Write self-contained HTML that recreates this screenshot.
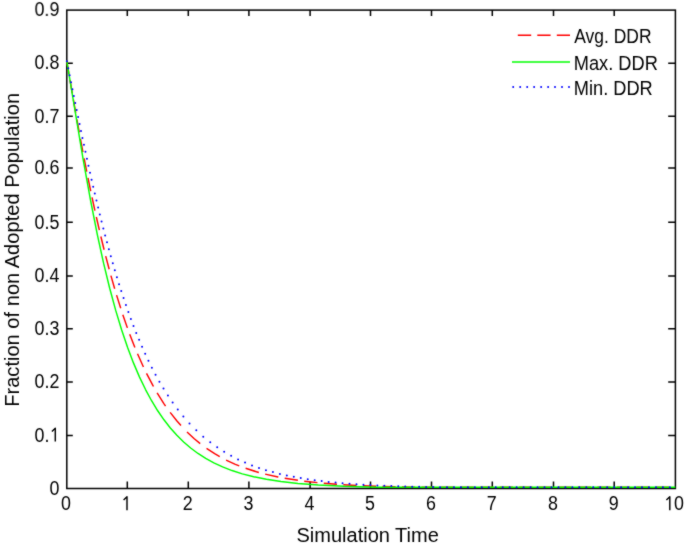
<!DOCTYPE html>
<html><head><meta charset="utf-8"><style>
html,body{margin:0;padding:0;background:#fff;}
svg{display:block;will-change:transform;}
text{font-family:"Liberation Sans",sans-serif;fill:#000;}
</style></head><body>
<svg width="685" height="546" viewBox="0 0 685 546">
<defs><filter id="soft" x="0" y="0" width="685" height="546" filterUnits="userSpaceOnUse" color-interpolation-filters="sRGB"><feConvolveMatrix order="3" kernelMatrix="1 2 1 2 20 2 1 2 1" divisor="32" edgeMode="duplicate"/></filter></defs>
<g filter="url(#soft)">
<rect width="685" height="546" fill="#fff"/>
<g fill="none" stroke="#000" stroke-width="1.5">
<rect x="66.8" y="10.1" width="608.6" height="478.4"/>
<path d="M127.3,488.5V481.5M127.3,10.1V16.1M188.3,488.5V481.5M188.3,10.1V16.1M248.9,488.5V481.5M248.9,10.1V16.1M310.1,488.5V481.5M310.1,10.1V16.1M370.5,488.5V481.5M370.5,10.1V16.1M431.5,488.5V481.5M431.5,10.1V16.1M492.3,488.5V481.5M492.3,10.1V16.1M553.5,488.5V481.5M553.5,10.1V16.1M614.2,488.5V481.5M614.2,10.1V16.1M66.8,435.5H72.8M675.4,435.5H668.2M66.8,381.9H72.8M675.4,381.9H668.2M66.8,328.8H72.8M675.4,328.8H668.2M66.8,276.1H72.8M675.4,276.1H668.2M66.8,222.3H72.8M675.4,222.3H668.2M66.8,168.1H72.8M675.4,168.1H668.2M66.8,116.3H72.8M675.4,116.3H668.2M66.8,63.2H72.8M675.4,63.2H668.2"/>
</g>
<g fill="none" stroke-width="1.45" stroke-linejoin="round" stroke-linecap="butt">
<path d="M66.70,60.66 68.93,73.86M70.01,80.20 72.29,93.40M73.39,99.74 75.73,112.94M76.86,119.28 79.26,132.48M80.44,138.82 82.92,152.02M84.14,158.36 86.73,171.56M88.01,177.90 90.72,191.10M92.06,197.44 94.91,210.64M96.33,216.98 99.36,230.18M100.86,236.52 104.09,249.72M105.70,256.06 109.18,269.26M110.91,275.60 114.68,288.80M116.58,295.14 120.71,308.34M122.80,314.68 127.38,327.88M129.71,334.22 134.87,347.42M137.52,353.76 143.44,366.96M146.51,373.30 152.98,385.63 153.46,386.50M157.12,392.84 163.71,403.29 165.58,406.04M170.14,412.38 176.97,421.00 180.97,425.58M187.00,431.92 194.28,438.72 200.20,443.65M206.54,448.38 214.66,453.71 219.74,456.69M226.08,460.04 235.36,464.31 239.28,465.92M245.62,468.29 256.48,471.77 258.82,472.44M265.16,474.12 278.03,476.99 278.36,477.06M284.70,478.25 297.90,480.32M304.24,481.16 317.44,482.63M323.78,483.22 336.98,484.26M343.32,484.68 356.52,485.42M362.86,485.71 376.06,486.23M382.40,486.44 395.60,486.81M401.94,486.96 415.14,487.20M421.48,487.20 434.68,487.20M441.02,487.20 454.22,487.20M460.56,487.20 473.76,487.20M480.10,487.20 493.30,487.20M499.64,487.20 512.84,487.20M519.18,487.20 532.38,487.20M538.72,487.20 551.92,487.20M558.26,487.20 571.46,487.20M577.80,487.20 591.00,487.20M597.34,487.20 610.54,487.20M616.88,487.20 630.08,487.20M636.42,487.20 649.62,487.20M655.96,487.20 669.16,487.20" stroke="#f00"/>
<path d="M66.70,60.66 83.27,160.06 90.65,200.98 97.28,234.46 103.58,263.19 109.70,288.29 115.71,310.41 121.67,330.06 127.61,347.54 133.56,363.14 139.53,377.09 145.53,389.56 151.58,400.73 157.71,410.77 163.96,419.82 170.34,427.97 176.89,435.33 183.65,441.99 190.66,448.01 198.00,453.47 205.70,458.40 213.86,462.87 222.60,466.92 232.02,470.56 242.32,473.83 253.68,476.74 266.42,479.30 280.96,481.54 297.92,483.45 318.29,485.03 343.85,486.30 376.74,487.20 675.30,487.20" stroke="#0f0"/>
</g>
<g fill="#00f"><circle cx="66.83" cy="61.29" r="1.0"/><circle cx="68.23" cy="68.26" r="1.0"/><circle cx="69.63" cy="75.22" r="1.0"/><circle cx="71.03" cy="82.19" r="1.0"/><circle cx="72.43" cy="89.15" r="1.0"/><circle cx="73.84" cy="96.11" r="1.0"/><circle cx="75.25" cy="103.08" r="1.0"/><circle cx="76.68" cy="110.04" r="1.0"/><circle cx="78.11" cy="117.01" r="1.0"/><circle cx="79.55" cy="123.97" r="1.0"/><circle cx="81.00" cy="130.93" r="1.0"/><circle cx="82.46" cy="137.90" r="1.0"/><circle cx="83.94" cy="144.86" r="1.0"/><circle cx="85.43" cy="151.83" r="1.0"/><circle cx="86.94" cy="158.79" r="1.0"/><circle cx="88.47" cy="165.75" r="1.0"/><circle cx="90.02" cy="172.72" r="1.0"/><circle cx="91.59" cy="179.68" r="1.0"/><circle cx="93.19" cy="186.65" r="1.0"/><circle cx="94.80" cy="193.61" r="1.0"/><circle cx="96.45" cy="200.57" r="1.0"/><circle cx="98.12" cy="207.54" r="1.0"/><circle cx="99.82" cy="214.50" r="1.0"/><circle cx="101.56" cy="221.47" r="1.0"/><circle cx="103.33" cy="228.43" r="1.0"/><circle cx="105.14" cy="235.39" r="1.0"/><circle cx="106.98" cy="242.36" r="1.0"/><circle cx="108.87" cy="249.32" r="1.0"/><circle cx="110.81" cy="256.29" r="1.0"/><circle cx="112.79" cy="263.25" r="1.0"/><circle cx="114.82" cy="270.21" r="1.0"/><circle cx="116.91" cy="277.18" r="1.0"/><circle cx="119.06" cy="284.14" r="1.0"/><circle cx="121.28" cy="291.11" r="1.0"/><circle cx="123.56" cy="298.07" r="1.0"/><circle cx="125.92" cy="305.03" r="1.0"/><circle cx="128.36" cy="312.00" r="1.0"/><circle cx="130.89" cy="318.96" r="1.0"/><circle cx="133.52" cy="325.93" r="1.0"/><circle cx="136.25" cy="332.89" r="1.0"/><circle cx="139.10" cy="339.85" r="1.0"/><circle cx="142.07" cy="346.82" r="1.0"/><circle cx="145.19" cy="353.78" r="1.0"/><circle cx="148.46" cy="360.75" r="1.0"/><circle cx="151.90" cy="367.71" r="1.0"/><circle cx="155.54" cy="374.67" r="1.0"/><circle cx="159.41" cy="381.64" r="1.0"/><circle cx="163.52" cy="388.60" r="1.0"/><circle cx="167.92" cy="395.57" r="1.0"/><circle cx="172.65" cy="402.53" r="1.0"/><circle cx="177.77" cy="409.49" r="1.0"/><circle cx="183.36" cy="416.46" r="1.0"/><circle cx="189.51" cy="423.42" r="1.0"/><circle cx="196.30" cy="430.34" r="1.0"/><circle cx="203.27" cy="436.68" r="1.0"/><circle cx="210.23" cy="442.33" r="1.0"/><circle cx="217.20" cy="447.36" r="1.0"/><circle cx="224.16" cy="451.85" r="1.0"/><circle cx="231.12" cy="455.84" r="1.0"/><circle cx="238.09" cy="459.40" r="1.0"/><circle cx="245.05" cy="462.57" r="1.0"/><circle cx="252.02" cy="465.39" r="1.0"/><circle cx="258.98" cy="467.90" r="1.0"/><circle cx="265.94" cy="470.14" r="1.0"/><circle cx="272.91" cy="472.12" r="1.0"/><circle cx="279.87" cy="473.89" r="1.0"/><circle cx="286.84" cy="475.47" r="1.0"/><circle cx="293.80" cy="476.87" r="1.0"/><circle cx="300.76" cy="478.12" r="1.0"/><circle cx="307.73" cy="479.23" r="1.0"/><circle cx="314.69" cy="480.22" r="1.0"/><circle cx="321.66" cy="481.10" r="1.0"/><circle cx="328.62" cy="481.88" r="1.0"/><circle cx="335.58" cy="482.58" r="1.0"/><circle cx="342.55" cy="483.20" r="1.0"/><circle cx="349.51" cy="483.75" r="1.0"/><circle cx="356.48" cy="484.24" r="1.0"/><circle cx="363.44" cy="484.67" r="1.0"/><circle cx="370.40" cy="485.06" r="1.0"/><circle cx="377.37" cy="485.41" r="1.0"/><circle cx="384.33" cy="485.72" r="1.0"/><circle cx="391.30" cy="485.99" r="1.0"/><circle cx="398.26" cy="486.23" r="1.0"/><circle cx="405.22" cy="486.45" r="1.0"/><circle cx="412.19" cy="486.64" r="1.0"/><circle cx="419.15" cy="486.81" r="1.0"/><circle cx="426.12" cy="486.97" r="1.0"/><circle cx="433.08" cy="487.10" r="1.0"/><circle cx="440.04" cy="487.20" r="1.0"/><circle cx="447.01" cy="487.20" r="1.0"/><circle cx="453.97" cy="487.20" r="1.0"/><circle cx="460.94" cy="487.20" r="1.0"/><circle cx="467.90" cy="487.20" r="1.0"/><circle cx="474.86" cy="487.20" r="1.0"/><circle cx="481.83" cy="487.20" r="1.0"/><circle cx="488.79" cy="487.20" r="1.0"/><circle cx="495.76" cy="487.20" r="1.0"/><circle cx="502.72" cy="487.20" r="1.0"/><circle cx="509.68" cy="487.20" r="1.0"/><circle cx="516.65" cy="487.20" r="1.0"/><circle cx="523.61" cy="487.20" r="1.0"/><circle cx="530.58" cy="487.20" r="1.0"/><circle cx="537.54" cy="487.20" r="1.0"/><circle cx="544.50" cy="487.20" r="1.0"/><circle cx="551.47" cy="487.20" r="1.0"/><circle cx="558.43" cy="487.20" r="1.0"/><circle cx="565.40" cy="487.20" r="1.0"/><circle cx="572.36" cy="487.20" r="1.0"/><circle cx="579.32" cy="487.20" r="1.0"/><circle cx="586.29" cy="487.20" r="1.0"/><circle cx="593.25" cy="487.20" r="1.0"/><circle cx="600.22" cy="487.20" r="1.0"/><circle cx="607.18" cy="487.20" r="1.0"/><circle cx="614.14" cy="487.20" r="1.0"/><circle cx="621.11" cy="487.20" r="1.0"/><circle cx="628.07" cy="487.20" r="1.0"/><circle cx="635.04" cy="487.20" r="1.0"/><circle cx="642.00" cy="487.20" r="1.0"/><circle cx="648.96" cy="487.20" r="1.0"/><circle cx="655.93" cy="487.20" r="1.0"/><circle cx="662.89" cy="487.20" r="1.0"/><circle cx="669.86" cy="487.20" r="1.0"/></g>
<g font-size="20.3"><text x="66.0" y="510.4" text-anchor="middle" transform="translate(66.0,0) scale(0.88,1) translate(-66.0,0)">0</text><text x="187.8" y="510.4" text-anchor="middle" transform="translate(187.8,0) scale(0.88,1) translate(-187.8,0)">2</text><text x="248.4" y="510.4" text-anchor="middle" transform="translate(248.4,0) scale(0.88,1) translate(-248.4,0)">3</text><text x="309.6" y="510.4" text-anchor="middle" transform="translate(309.6,0) scale(0.88,1) translate(-309.6,0)">4</text><text x="370.0" y="510.4" text-anchor="middle" transform="translate(370.0,0) scale(0.88,1) translate(-370.0,0)">5</text><text x="431.0" y="510.4" text-anchor="middle" transform="translate(431.0,0) scale(0.88,1) translate(-431.0,0)">6</text><text x="491.8" y="510.4" text-anchor="middle" transform="translate(491.8,0) scale(0.88,1) translate(-491.8,0)">7</text><text x="553.0" y="510.4" text-anchor="middle" transform="translate(553.0,0) scale(0.88,1) translate(-553.0,0)">8</text><text x="613.7" y="510.4" text-anchor="middle" transform="translate(613.7,0) scale(0.88,1) translate(-613.7,0)">9</text><text x="678.9" y="510.4" text-anchor="middle" transform="translate(678.9,0) scale(0.88,1) translate(-678.9,0)">0</text><text x="59.5" y="494.8" text-anchor="end" transform="translate(59.5,0) scale(0.88,1) translate(-59.5,0)">0</text><text x="34.5" y="441.8" transform="translate(34.5,0) scale(0.88,1) translate(-34.5,0)">0.</text><text x="34.5" y="388.2" transform="translate(34.5,0) scale(0.88,1) translate(-34.5,0)">0.2</text><text x="34.5" y="335.1" transform="translate(34.5,0) scale(0.88,1) translate(-34.5,0)">0.3</text><text x="34.5" y="282.4" transform="translate(34.5,0) scale(0.88,1) translate(-34.5,0)">0.4</text><text x="34.5" y="228.6" transform="translate(34.5,0) scale(0.88,1) translate(-34.5,0)">0.5</text><text x="34.5" y="174.4" transform="translate(34.5,0) scale(0.88,1) translate(-34.5,0)">0.6</text><text x="34.5" y="122.6" transform="translate(34.5,0) scale(0.88,1) translate(-34.5,0)">0.7</text><text x="34.5" y="69.5" transform="translate(34.5,0) scale(0.88,1) translate(-34.5,0)">0.8</text><text x="34.5" y="16.4" transform="translate(34.5,0) scale(0.88,1) translate(-34.5,0)">0.9</text></g>
<path d="M123.60,500.10L127.00,496.80V510.20M666.40,500.10L669.80,496.80V510.20M51.90,431.50L55.30,428.20V441.60" fill="none" stroke="#000" stroke-width="1.45" stroke-linejoin="round"/>
<text x="296.5" y="542" font-size="20">Simulation Time</text>
<text transform="translate(18.8,406.8) rotate(-90)" font-size="20.1">Fraction of non Adopted Population</text>
<g fill="none" stroke-width="1.4">
<path d="M531.2,35.3H517.8M550.6,35.3H537.3M570.0,35.3H556.8" stroke="#f00"/>
<path d="M512,62H570" stroke="#0f0"/>
</g>
<g fill="#00f"><circle cx="513.20" cy="87.1" r="1.0"/><circle cx="520.20" cy="87.1" r="1.0"/><circle cx="527.20" cy="87.1" r="1.0"/><circle cx="534.10" cy="87.1" r="1.0"/><circle cx="541.10" cy="87.1" r="1.0"/><circle cx="548.10" cy="87.1" r="1.0"/><circle cx="555.00" cy="87.1" r="1.0"/><circle cx="562.00" cy="87.1" r="1.0"/><circle cx="569.00" cy="87.1" r="1.0"/></g>
<g font-size="19.5">
<text x="574.3" y="43.2" transform="translate(574.3,0) scale(0.895,1) translate(-574.3,0)">Avg. DDR</text>
<text x="573.8" y="69.8" transform="translate(573.8,0) scale(0.935,1) translate(-573.8,0)">Max. DDR</text>
<text x="573.8" y="94.7" transform="translate(573.8,0) scale(0.935,1) translate(-573.8,0)">Min. DDR</text>
</g>
</g>
</svg>
</body></html>
